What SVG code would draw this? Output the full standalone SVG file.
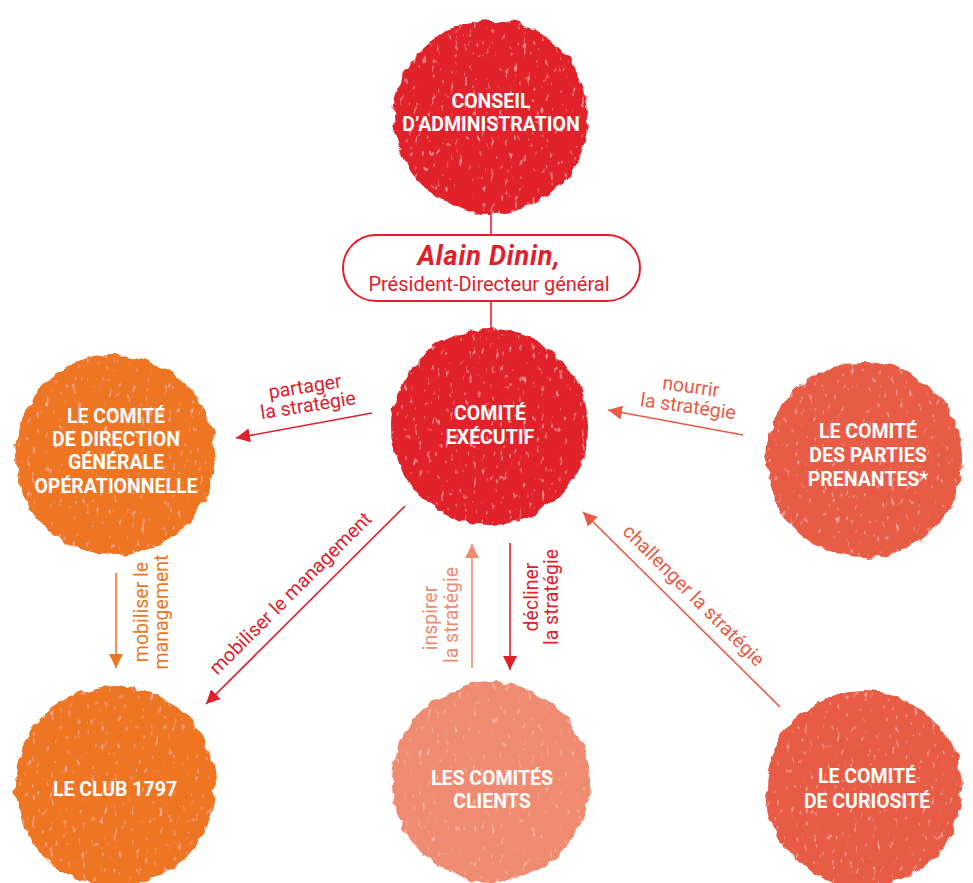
<svg xmlns="http://www.w3.org/2000/svg" width="973" height="883" viewBox="0 0 973 883">
<defs>
<filter id="crayon" x="-10%" y="-10%" width="120%" height="120%">
<feTurbulence type="fractalNoise" baseFrequency="0.08" numOctaves="2" seed="3" result="n"/>
<feDisplacementMap in="SourceGraphic" in2="n" scale="9" xChannelSelector="R" yChannelSelector="G" result="d"/>
<feTurbulence type="fractalNoise" baseFrequency="0.22 0.12" numOctaves="2" seed="9" result="n2"/>
<feColorMatrix in="n2" type="matrix" values="0 0 0 0 1  0 0 0 0 1  0 0 0 0 1  1.6 0 0 0 -1.05" result="spk"/>
<feComposite in="spk" in2="d" operator="in" result="spk2"/>
<feMerge><feMergeNode in="d"/><feMergeNode in="spk2"/></feMerge>
</filter>
<marker id="aRed" markerUnits="userSpaceOnUse" markerWidth="16" markerHeight="16" refX="14" refY="7" orient="auto"><path d="M0,0 L14,7 L0,14 z" fill="#e2202c"/></marker>
<marker id="aOrange" markerUnits="userSpaceOnUse" markerWidth="16" markerHeight="16" refX="14" refY="7" orient="auto"><path d="M0,0 L14,7 L0,14 z" fill="#ee7623"/></marker>
<marker id="aCoral" markerUnits="userSpaceOnUse" markerWidth="16" markerHeight="16" refX="14" refY="7" orient="auto"><path d="M0,0 L14,7 L0,14 z" fill="#e85c45"/></marker>
<marker id="aSalmon" markerUnits="userSpaceOnUse" markerWidth="16" markerHeight="16" refX="14" refY="7" orient="auto"><path d="M0,0 L14,7 L0,14 z" fill="#ef8b70"/></marker>
</defs>
<style>
.node circle{filter:url(#crayon)}
.lbl{font-family:Roboto,"Liberation Sans",sans-serif;font-weight:bold;font-size:19.5px;fill:#fff;text-anchor:middle}
.cl{font-family:Roboto,"Liberation Sans",sans-serif;font-size:19.5px;text-anchor:middle}
.ln{fill:none;stroke-width:1.6}
.red{fill:#e2202c}.orange{fill:#ee7623}.coral{fill:#e85c45}.salmon{fill:#ef8b70}
</style>
<rect width="973" height="883" fill="#fff"/>
<g id="connectors">
<line class="ln" x1="491" y1="212" x2="491" y2="236" stroke="#e2202c"/>
<line class="ln" x1="491" y1="300" x2="491" y2="332" stroke="#e2202c"/>
<line class="ln" x1="372" y1="413" x2="236" y2="438" stroke="#e2202c" marker-end="url(#aRed)"/>
<line class="ln" x1="743" y1="435" x2="608" y2="410" stroke="#e85c45" marker-end="url(#aCoral)"/>
<line class="ln" x1="116" y1="573" x2="116" y2="668" stroke="#ee7623" marker-end="url(#aOrange)"/>
<line class="ln" x1="405" y1="506" x2="206" y2="704" stroke="#e2202c" marker-end="url(#aRed)"/>
<line class="ln" x1="472" y1="668" x2="472" y2="544" stroke="#ef8b70" marker-end="url(#aSalmon)"/>
<line class="ln" x1="510" y1="543" x2="510" y2="670" stroke="#e2202c" marker-end="url(#aRed)"/>
<line class="ln" x1="780" y1="707" x2="583" y2="512" stroke="#e85c45" marker-end="url(#aCoral)"/>
<g transform="translate(306,393) rotate(-9)"><text class="cl red" x="0" y="0">partager</text><text class="cl red" x="0" y="19">la stratégie</text></g>
<g transform="translate(690,393) rotate(8)"><text class="cl coral" x="0" y="0">nourrir</text><text class="cl coral" x="0" y="20">la stratégie</text></g>
<g transform="translate(148,612) rotate(-90)"><text class="cl orange" x="0" y="0">mobiliser le</text><text class="cl orange" x="0" y="20">management</text></g>
<g transform="translate(295,598) rotate(-45)"><text class="cl red" x="0" y="0">mobiliser le management</text></g>
<g transform="translate(437,618) rotate(-90)"><text class="cl salmon" x="0" y="0">inspirer</text><text class="cl salmon" x="3" y="21">la stratégie</text></g>
<g transform="translate(538,597) rotate(-90)"><text class="cl red" x="0" y="0">décliner</text><text class="cl red" x="0" y="20">la stratégie</text></g>
<g transform="translate(689,600) rotate(45)"><text class="cl coral" x="0" y="0">challenger la stratégie</text></g>
</g>
<g id="conseil" class="node"><circle cx="491" cy="117" r="97" fill="#e2202c"/><text class="lbl" x="491" y="108">CONSEIL</text><text class="lbl" x="491" y="131">D’ADMINISTRATION</text></g>
<g id="pdg"><rect x="343" y="235" width="297" height="66" rx="33" fill="#fff" stroke="#e2202c" stroke-width="2"/><text x="489" y="265" font-family="Roboto,'Liberation Sans',sans-serif" font-weight="bold" font-style="italic" font-size="27" letter-spacing="0.8" fill="#e2202c" text-anchor="middle">Alain Dinin,</text><text x="489" y="291" font-family="Roboto,'Liberation Sans',sans-serif" font-size="20" fill="#e2202c" text-anchor="middle">Président-Directeur général</text></g>
<g id="comex" class="node"><circle cx="490" cy="427" r="98" fill="#e2202c"/><text class="lbl" x="490" y="420">COMITÉ</text><text class="lbl" x="490" y="444">EXÉCUTIF</text></g>
<g id="codir" class="node"><circle cx="115" cy="455" r="100" fill="#ee7623"/><text class="lbl" x="116" y="423">LE COMITÉ</text><text class="lbl" x="116" y="446">DE DIRECTION</text><text class="lbl" x="116" y="469">GÉNÉRALE</text><text class="lbl" x="116" y="493">OPÉRATIONNELLE</text></g>
<g id="parties" class="node"><circle cx="864" cy="460" r="98" fill="#e85c45"/><text class="lbl" x="868" y="438">LE COMITÉ</text><text class="lbl" x="868" y="462">DES PARTIES</text><text class="lbl" x="868" y="486">PRENANTES*</text></g>
<g id="club" class="node"><circle cx="115" cy="786" r="100" fill="#ee7623"/><text class="lbl" x="115" y="796">LE CLUB 1797</text></g>
<g id="clients" class="node"><circle cx="491" cy="782" r="99" fill="#ef8b70"/><text class="lbl" x="492" y="785">LES COMITÉS</text><text class="lbl" x="492" y="808">CLIENTS</text></g>
<g id="curiosite" class="node"><circle cx="864" cy="789" r="98" fill="#e85c45"/><text class="lbl" x="867" y="783">LE COMITÉ</text><text class="lbl" x="867" y="808">DE CURIOSITÉ</text></g>
</svg>
